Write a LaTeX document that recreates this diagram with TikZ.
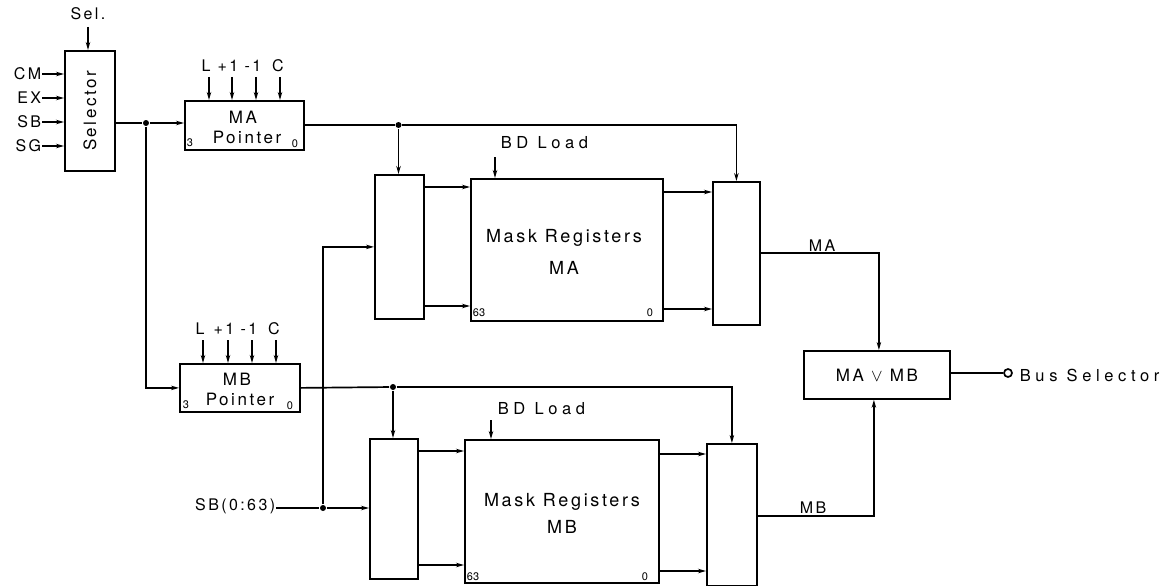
\documentclass[tikz,border=0pt]{standalone}
\usepackage{fontspec}
\setmainfont{TeX Gyre Heros}[LetterSpace=15]
\usetikzlibrary{arrows.meta}
\begin{document}
\begin{tikzpicture}[x=1pt,y=-1pt, line width=1.7pt,
 box/.style={draw, line width=1.8pt, inner sep=0pt, anchor=north west},
 arr/.style={-{Stealth[length=8pt,width=4.5pt]}},
 dot/.style={circle, fill, inner sep=0pt, minimum size=6pt},
 lbl/.style={inner sep=0pt, font=\fontsize{16}{18}\selectfont},
 wide/.style={inner sep=0pt, font=\fontsize{16.5}{18}\selectfont\addfontfeatures{LetterSpace=28}},
 big/.style={inner sep=0pt, font=\fontsize{18}{20}\selectfont},
 mid/.style={inner sep=0pt, font=\fontsize{17}{20}\selectfont},
 tiny/.style={inner sep=0pt, font=\fontsize{11}{12}\selectfont\addfontfeatures{LetterSpace=0}}]
\path[use as bounding box] (0,0) rectangle (1165,586);

% Selector
\node[box, minimum width=50pt, minimum height=120pt] (sel) at (64,50) {};
\node[mid, rotate=90] (seltxt) at (sel.center) {Selector};
\node[lbl] (selin) at (88,14) {Sel.};
\coordinate (selc) at (88,27);
\draw[arr] (selc) -- (selc |- sel.north);
\foreach \n/\t/\y in {cm/CM/74, ex/EX/98, sb/SB/122, sg/SG/146}{
  \node[lbl, anchor=east] (\n) at (42,\y) {\t};
  \draw[arr] (\n.east) -- (\n.east -| sel.west);
}

% MA pointer
\node[dot] (d1) at (146,123) {};
\node[box, minimum width=119pt, minimum height=49pt] (map) at (184,100) {};
\node[mid] (matxt) at (243,117) {MA};
\node[mid] (maptxt) at (247,137) {Pointer};
\node[tiny] (ma3) at (190,143) {3};
\node[tiny] (ma0) at (295,144) {0};
\draw (sel.east |- d1) -- (d1);
\draw[arr] (d1) -- (d1 -| map.west);
\foreach \n/\t/\xl/\xa in {l/L/206/209, p/+1/228/232, m/-1/253/256, c/C/278/280}{
  \node[lbl] (mac\n) at (\xl,66) {\t};
  \coordinate (maca\n) at (\xa,77);
  \draw[arr] (maca\n) -- (maca\n |- map.north);
}

% MB pointer
\node[box, minimum width=120pt, minimum height=48pt] (mbp) at (179,363) {};
\node[mid] (mbtxt) at (237,379) {MB};
\node[mid] (mbptxt) at (240,399) {Pointer};
\node[tiny] (mb3) at (186,405) {3};
\node[tiny] (mb0) at (290,406) {0};
\draw[arr] (d1) |- (mbp.west);
\foreach \n/\t/\xl/\xa in {l/L/200/203, p/+1/224/228, m/-1/249/252, c/C/274/276}{
  \node[lbl] (mbc\n) at (\xl,329) {\t};
  \coordinate (mbca\n) at (\xa,340);
  \draw[arr] (mbca\n) -- (mbca\n |- mbp.north);
}

% MA register section
\node[box, minimum width=49pt, minimum height=144pt] (muxa) at (374,174) {};
\node[box, minimum width=192pt, minimum height=142pt] (rega) at (470,178) {};
\node[box, minimum width=47pt, minimum height=143pt] (rmuxa) at (712,181) {};
\node[big] (regatxt) at (564,238) {Mask Registers};
\node[big] (reganame) at (564,268) {MA};
\node[tiny] (rega63) at (479,313) {63};
\node[tiny] (rega0) at (650,313) {0};
\node[wide, anchor=west] (bda) at (500,143) {BD Load};
\coordinate (bdat) at (495,157);
\draw[arr] (bdat) -- (bdat |- rega.north);
\draw[arr] (muxa.east |- 0,187) -- (rega.west |- 0,187);
\draw[arr] (muxa.east |- 0,306) -- (rega.west |- 0,306);
\draw[arr] (rega.east |- 0,192) -- (rmuxa.west |- 0,192);
\draw[arr] (rega.east |- 0,309) -- (rmuxa.west |- 0,309);

\node[dot] (d2) at (398.5,125) {};
\draw (map.east |- d2) -- (d2);
\draw[arr] (d2) -- (d2 |- muxa.north);
\draw[arr] (d2) -| (rmuxa.north);

% MB register section
\node[box, minimum width=48pt, minimum height=140pt] (muxb) at (369,438) {};
\node[box, minimum width=194pt, minimum height=143pt] (regb) at (464,439) {};
\node[box, minimum width=50pt, minimum height=142pt] (rmuxb) at (706,443) {};
\node[big] (regbtxt) at (562,502) {Mask Registers};
\node[big] (regbname) at (562,527) {MB};
\node[tiny] (regb63) at (473,577) {63};
\node[tiny] (regb0) at (645,577) {0};
\node[wide, anchor=west] (bdb) at (497,409) {BD Load};
\coordinate (bdbt) at (491,420);
\draw[arr] (bdbt) -- (bdbt |- regb.north);
\draw[arr] (muxb.east |- 0,451) -- (regb.west |- 0,451);
\draw[arr] (muxb.east |- 0,565) -- (regb.west |- 0,565);
\draw[arr] (regb.east |- 0,454) -- (rmuxb.west |- 0,454);
\draw[arr] (regb.east |- 0,571) -- (rmuxb.west |- 0,571);

\node[dot] (d4) at (393,387) {};
\draw (mbp.east) -- (d4);
\draw[arr] (d4) -- (d4 |- muxb.north);
\draw[arr] (d4) -| (rmuxb.north);

% SB bus
\node[lbl, anchor=east] (sbb) at (276,506) {SB(0:63)};
\node[dot] (d3) at (323,508) {};
\draw (sbb.east |- d3) -- (d3);
\draw[arr] (d3) -- (d3 -| muxb.west);
\draw[arr] (d3) |- (muxa.west);

% OR and output
\node[box, minimum width=146pt, minimum height=48pt] (orb) at (803,350) {};
\node[mid] (orbtxt) at (orb.center) {MA $\vee$ MB};
\draw[arr] (rmuxa.east |- 0,253) -| ([xshift=2pt]orb.north);
\node[lbl, anchor=south] (malbl) at (822,252) {MA};
\draw[arr] (rmuxb.east |- 0,516) -| ([xshift=-3pt]orb.south);
\node[lbl, anchor=south] (mblbl) at (813,514) {MB};
\node[circle, draw, minimum size=8pt, inner sep=0pt, line width=1.7pt] (bus) at (1008,373) {};
\draw (orb.east |- bus) -- (bus.west);
\node[wide, anchor=west] (buslbl) at (1019,375) {Bus Selector};
\end{tikzpicture}
\end{document}
